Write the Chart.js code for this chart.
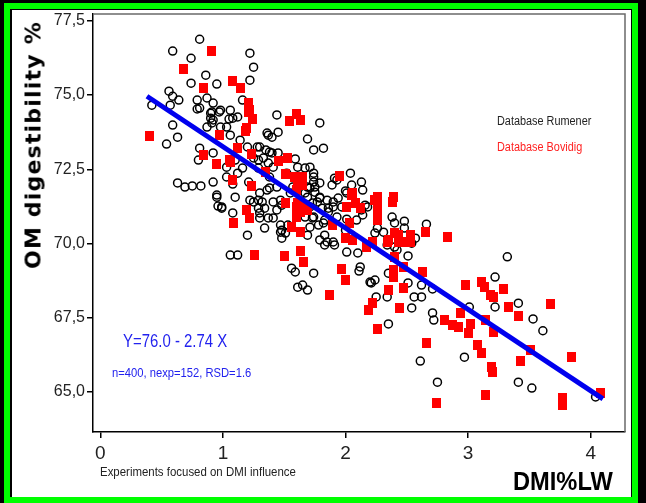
<!DOCTYPE html>
<html>
<head>
<meta charset="utf-8">
<script src="https://cdn.jsdelivr.net/npm/chart.js@4"></script>
<style>
  html, body { margin: 0; padding: 0; background: #000; }
  #frame { position: relative; width: 646px; height: 503px; background: #000; overflow: hidden; }
  #green { position: absolute; left: 4px; top: 3px; width: 634px; height: 500px; box-sizing: border-box; border: 6px solid #00ff00; }
  #panel { position: absolute; left: 12px; top: 10px; width: 619px; height: 487px; background: #fff; }
  #chartBox { position: absolute; left: 0; top: 0; width: 646px; height: 503px; }
  .lbl { position: absolute; white-space: nowrap; line-height: 1; transform-origin: 0 50%;
         font-family: "Liberation Sans Narrow", "Liberation Sans", Arial, sans-serif; }
  #yTitle { left: 33px; top: 145px; font: bold 22px "DejaVu Sans", Verdana, sans-serif; color: #000;
            letter-spacing: 1.2px; transform-origin: 50% 50%; transform: translate(-50%, -50%) rotate(-90deg); }
  #xTitle { left: 513px; top: 468px; font-size: 26px; font-weight: bold; color: #000; transform: scaleX(0.91); }
  #note { left: 100px; top: 465px; font-size: 13px; color: #222; transform: scaleX(0.88); }
  #legRum { left: 497px; top: 115px; font-size: 12.5px; color: #222; transform: scaleX(0.87); }
  #legBov { left: 497px; top: 141px; font-size: 12.5px; color: #ff2020; transform: scaleX(0.87); }
  #eqn { left: 123px; top: 332px; font-size: 18px; color: #2222ee; transform: scaleX(0.83); }
  #stats { left: 112px; top: 366px; font-size: 13.5px; color: #2222ee; transform: scaleX(0.83); }
</style>
</head>
<body>
<div id="frame">
  <div id="green"></div>
  <div id="panel"></div>
  <div id="chartBox"><canvas id="scatterChart" width="646" height="503"></canvas></div>
  <div class="lbl" id="yTitle">OM digestibility %</div>
  <div class="lbl" id="xTitle">DMI%LW</div>
  <div class="lbl" id="note">Experiments focused on DMI influence</div>
  <div class="lbl" id="legRum">Database Rumener</div>
  <div class="lbl" id="legBov">Database Bovidig</div>
  <div class="lbl" id="eqn">Y=76.0 - 2.74 X</div>
  <div class="lbl" id="stats">n=400, nexp=152, RSD=1.6</div>
</div>
<script>
// ==================== Data ====================
// DMI (% live weight) vs OM digestibility (%)
const rumenerPoints = [
  [0.81,76.88],[0.59,76.48],[0.74,76.24],[0.86,75.67],[0.74,75.40],[0.95,75.37],[0.56,75.13],[0.59,74.96],
  [0.64,74.83],[0.42,74.66],[0.57,74.66],[0.79,74.83],[0.87,74.90],[0.81,74.56],[0.92,74.73],[0.97,74.43],
  [0.91,74.43],[0.59,73.99],[1.06,74.49],[1.12,74.26],[1.05,74.19],[0.90,74.22],[1.22,76.41],[1.22,75.50],
  [0.91,74.06],[0.98,73.92],[1.25,75.94],[1.16,74.83],[0.63,73.58],[0.54,73.35],[0.79,74.53],[0.90,74.39],
  [0.92,74.16],[0.87,73.92],[1.03,73.92],[0.98,74.49],[1.08,74.22],[1.06,73.65],[1.14,73.48],[1.28,73.25],
  [1.36,73.72],[1.40,73.58],[1.44,74.33],[1.45,73.75],[1.79,74.06],[1.69,73.52],[1.74,73.15],[1.82,73.21],
  [0.81,73.21],[0.80,72.81],[0.92,73.05],[0.63,72.04],[0.69,71.90],[0.75,71.94],[0.82,71.94],[0.92,72.07],
  [0.95,71.63],[0.99,71.23],[1.03,72.57],[1.03,72.24],[1.10,72.81],[1.12,72.37],[1.16,72.54],[1.25,72.88],
  [1.20,73.25],[1.30,73.25],[1.40,73.05],[1.41,72.57],[1.38,72.24],[1.44,71.90],[1.47,71.46],[1.44,71.13],
  [1.30,71.03],[1.30,71.70],[1.25,71.40],[1.36,71.80],[1.52,72.37],[1.57,71.90],[1.55,71.70],[1.74,72.24],
  [1.75,71.90],[1.79,71.56],[1.85,71.46],[1.86,71.06],[1.71,71.23],[1.67,71.70],[1.67,72.54],[1.74,72.37],
  [1.74,72.07],[1.91,72.20],[1.93,72.14],[2.04,72.37],[2.13,72.07],[2.14,71.80],[2.00,71.77],[1.69,71.90],
  [1.69,71.56],[1.79,71.53],[1.90,71.40],[1.97,71.23],[1.69,71.19],[1.74,70.89],[1.83,70.79],[1.93,70.89],
  [2.01,70.82],[2.13,71.13],[2.18,71.23],[2.38,70.89],[2.48,70.75],[2.66,70.65],[2.31,70.38],[2.24,70.35],
  [1.83,70.28],[1.83,69.95],[1.90,70.05],[2.01,69.71],[2.10,69.68],[2.12,69.21],[2.20,68.70],[2.24,68.77],
  [1.74,69.00],[1.69,68.43],[2.35,69.00],[2.42,69.78],[2.51,69.58],[2.71,68.47],[3.22,68.87],[3.32,69.55],
  [1.65,68.60],[2.11,69.07],[2.21,68.67],[2.25,68.20],[2.34,68.20],[2.35,67.29],[2.51,68.67],[2.54,67.83],
  [2.56,68.20],[2.62,68.20],[2.62,68.60],[2.71,67.66],[2.72,67.42],[2.61,66.04],[2.75,65.33],[2.97,66.17],
  [3.01,67.86],[3.41,67.99],[3.53,67.46],[3.61,67.06],[3.41,65.33],[3.52,65.13],[3.22,67.86],[4.04,64.83],
  [0.95,71.56],[0.96,71.26],[0.99,71.19],[1.08,71.03],[1.10,71.56],[1.08,72.00],[1.20,70.28],[1.06,69.61],
  [1.12,69.61],[1.32,71.40],[1.29,71.19],[1.30,70.86],[1.37,70.86],[1.41,70.86],[1.48,70.45],[1.48,70.18],
  [1.56,69.17],[1.59,69.04],[1.61,68.53],[1.67,70.89],[1.71,70.55],[1.69,70.28],[1.82,70.69],[1.85,70.05],
  [1.34,70.52],[1.21,72.07],[1.38,71.87],[1.22,71.46],[1.29,71.46],[1.34,71.19],[1.41,71.40],[1.48,71.29],
  [1.47,70.62],[1.47,70.38],[1.51,70.35],[1.53,70.62],[1.73,71.36],[1.77,71.40],[1.81,71.19],[1.86,71.19],
  [1.90,71.23],[1.94,71.53],[1.79,72.04],[1.89,71.97],[1.73,70.86],[1.78,70.62],[1.79,70.12],[1.91,69.95],
  [1.71,71.87],[1.75,71.73],[2.00,70.45],[2.05,70.28],[1.37,73.65],[1.35,73.15],[1.38,73.08],[1.45,73.05],
  [1.29,72.81],[1.33,72.88],[1.37,72.71],[1.29,72.54],[1.59,72.85],[1.61,72.57],[1.71,72.57],[2.05,71.97],
  [2.05,71.70],[2.01,71.70],[2.16,71.29],[2.14,70.96],[2.09,70.79],[2.40,70.69],[2.48,70.52],[2.26,70.52],
  [2.40,69.88],[2.57,70.18],[2.54,70.01],[2.34,69.95]
];
const bovidigPoints = [
  [0.68,75.87],[0.91,76.48],[0.84,75.23],[1.08,75.47],[1.14,75.23],[1.21,74.73],[1.22,74.49],[1.24,74.19],
  [1.19,73.89],[0.40,73.62],[0.97,73.65],[0.84,72.98],[0.95,72.67],[1.06,72.74],[1.12,73.21],[1.23,73.00],
  [1.08,72.14],[1.23,71.94],[1.19,71.13],[1.35,72.41],[1.45,72.77],[1.53,72.88],[1.51,72.34],[1.51,71.36],
  [1.54,74.12],[1.60,74.36],[1.63,74.16],[1.61,72.14],[1.60,71.80],[1.65,71.97],[1.61,71.36],[1.63,71.06],
  [1.60,70.89],[1.56,70.55],[1.63,70.38],[1.22,70.86],[1.26,69.61],[1.50,69.58],[1.63,69.75],[1.66,69.38],
  [1.89,70.62],[1.95,72.27],[2.01,71.23],[2.03,70.69],[1.97,69.14],[2.00,70.18],[1.09,70.69],[1.60,71.23],
  [1.65,71.23],[1.69,71.13],[1.87,68.27],[1.05,72.81],[1.18,73.80],[1.21,74.43],[1.58,72.24],[1.65,72.24],
  [2.05,71.63],[2.08,71.36],[2.12,71.19],[2.24,71.46],[2.26,71.23],[2.26,70.96],[2.39,71.56],[2.38,71.40],
  [2.06,70.12],[2.17,69.88],[2.22,70.05],[2.34,70.05],[2.40,70.35],[2.43,70.28],[2.53,70.28],[2.50,70.05],
  [2.65,70.38],[2.83,70.22],[2.40,69.54],[2.39,69.11],[2.47,69.21],[2.63,69.04],[2.35,68.43],[2.47,68.50],
  [2.00,68.77],[2.98,68.60],[3.11,68.70],[3.13,68.53],[3.18,68.27],[3.29,68.47],[2.06,71.70],[2.26,71.56],
  [2.26,70.79],[2.35,70.12],[2.43,70.05],[2.53,70.05],[2.39,68.87],[2.22,67.99],[2.19,67.76],[2.26,67.12],
  [2.44,67.83],[2.66,66.65],[2.74,64.63],[3.21,68.20],[3.33,67.86],[3.41,67.55],[3.67,67.96],[2.94,67.66],
  [2.81,67.42],[2.87,67.25],[2.92,67.18],[3.02,67.29],[3.00,66.98],[3.14,67.42],[3.21,67.01],[3.08,66.58],
  [3.11,66.30],[3.19,65.84],[3.20,65.67],[3.43,66.04],[3.51,66.41],[3.84,66.17],[3.14,64.90],[3.77,64.80],
  [3.77,64.57],[4.08,64.97]
];
// Regression Y = 76.0 - 2.74 X, drawn over the DMI range it covers
const fitIntercept = 76.0;
const fitSlope = -2.74;
const fitRange = [0.38, 4.10];

const xTicks = [0, 1, 2, 3, 4];
const xTickLabels = ['0', '1', '2', '3', '4'];
const yTicks = [65, 67.5, 70, 72.5, 75, 77.5];
const yTickLabels = ['65,0', '67,5', '70,0', '72,5', '75,0', '77,5'];

// ==================== Chart ====================
function redSquare() {
    const c = document.createElement('canvas');
    c.width = 9; c.height = 10;
    const g = c.getContext('2d');
    g.fillStyle = '#ff0000';
    g.fillRect(0, 0, 9, 10);
    return c;
}

// top + right frame lines (Minitab style box)
const framePlugin = {
    id: 'framePlugin',
    afterDatasetsDraw(chart) {
        const a = chart.chartArea, ctx = chart.ctx;
        ctx.save();
        ctx.strokeStyle = '#6a6a6a';
        ctx.lineWidth = 1.5;
        ctx.beginPath();
        ctx.moveTo(a.left, a.top);
        ctx.lineTo(a.right, a.top);
        ctx.lineTo(a.right, a.bottom);
        ctx.stroke();
        ctx.restore();
    }
};

const tickFont = { family: '"Liberation Sans Narrow", "Liberation Sans", Arial, sans-serif' };

new Chart(document.getElementById('scatterChart').getContext('2d'), {
    type: 'scatter',
    data: {
        datasets: [
            {
                type: 'line', label: 'fit', order: 0,
                data: fitRange.map(x => ({ x: x, y: fitIntercept + fitSlope * x })),
                borderColor: '#0000ee', borderWidth: 5, pointRadius: 0, fill: false
            },
            {
                label: 'Database Bovidig', order: 1,
                data: bovidigPoints.map(p => ({ x: p[0], y: p[1] })),
                pointStyle: redSquare(), pointRadius: 5
            },
            {
                label: 'Database Rumener', order: 2,
                data: rumenerPoints.map(p => ({ x: p[0], y: p[1] })),
                pointStyle: 'circle', pointRadius: 4, borderColor: '#000', borderWidth: 1.5,
                backgroundColor: 'rgba(0,0,0,0)'
            }
        ]
    },
    options: {
        responsive: false, animation: false,
        layout: { padding: { top: 14, right: 21, left: 0, bottom: 0 } },
        plugins: { legend: { display: false }, tooltip: { enabled: false } },
        scales: {
            x: {
                type: 'linear', min: -0.06, max: 4.28,
                afterBuildTicks: s => { s.ticks = xTicks.map(v => ({ value: v })); },
                afterFit: s => { s.height = 71; },
                ticks: {
                    callback: (v) => xTickLabels[xTicks.indexOf(v)],
                    font: Object.assign({ size: 19 }, tickFont), color: '#222', padding: 4, maxRotation: 0
                },
                grid: { drawOnChartArea: false, drawTicks: true, tickLength: 6, color: '#000', lineWidth: 1.5 },
                border: { display: true, color: '#000', width: 1.5 }
            },
            y: {
                type: 'linear', min: 63.65, max: 77.73,
                afterBuildTicks: s => { s.ticks = yTicks.map(v => ({ value: v })); },
                afterFit: s => { s.width = 93; },
                ticks: {
                    callback: (v) => yTickLabels[yTicks.indexOf(v)],
                    font: Object.assign({ size: 16 }, tickFont), color: '#222', padding: 2
                },
                grid: { drawOnChartArea: false, drawTicks: true, tickLength: 6, color: '#000', lineWidth: 1.5 },
                border: { display: true, color: '#000', width: 1.5 }
            }
        }
    },
    plugins: [framePlugin]
});
</script>
</body>
</html>
